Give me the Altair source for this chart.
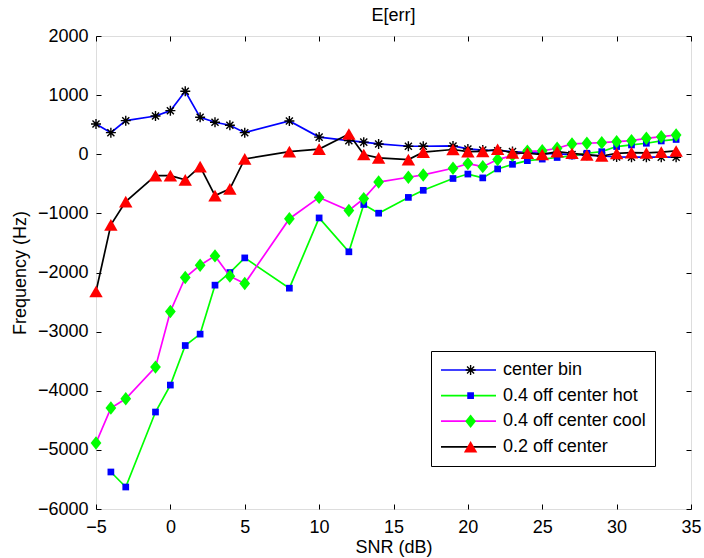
import math
import altair as alt
import pandas as pd

# ---------------- data ----------------
snr = [-5, -4, -3, -1, 0, 1, 2, 3, 4, 5, 8, 10, 12, 13, 14, 16, 17, 19,
       20, 21, 22, 23, 24, 25, 26, 27, 28, 29, 30, 31, 32, 33, 34]
snr_hot = snr[1:]

center_bin = [512, 365, 568, 647, 737, 1065, 625, 541, 490, 365, 563, 290, 230, 205, 174, 135, 135, 140,
              90, 70, 60, 45, 30, 15, 5, -5, -15, -30, -45, -50, -50, -50, -50]
off_hot = [-5374, -5628, -4360, -3904, -3235, -3042, -2214, -2001, -1753, -2265, -1077, -1650, -850, -997,
           -730, -610, -410, -335, -400, -248, -170, -108, -82, -55, -29, 17, 44, 130, 157, 186, 225, 250]
off_cool = [-4884, -4293, -4136, -3600, -2660, -2085, -1876, -1719, -2062, -2187, -1090, -730, -950, -750,
            -470, -389, -350, -237, -158, -210, -90, -18, 50, 58, 101, 174, 186, 196, 213, 230, 270, 297, 326]
off_02 = [-2322, -1195, -801, -362, -362, -434, -209, -700, -586, -79, 44, 87, 343, -5, -62, -90, 35, 80,
          44, 47, 84, 22, 17, -5, 44, 17, -12, -29, 15, 28, 22, 35, 56]

names = ["center bin", "0.4 off center hot", "0.4 off center cool", "0.2 off center"]
keys = ["k1", "k2", "k3", "k4"]
x_ticks = [-5, 0, 5, 10, 15, 20, 25, 30, 35]
y_ticks = [-6000, -5000, -4000, -3000, -2000, -1000, 0, 1000, 2000]

# ---------------- styles ----------------
line_colors = ["#0000FF", "#00FF00", "#FF00FF", "#000000"]
marker_colors = ["#000000", "#0000FF", "#00FF00", "#FF0000"]


def bar(theta, L=1.0, w=0.14):
    c, s = math.cos(theta), math.sin(theta)
    dx, dy = L * c, L * s
    px, py = -w * s, w * c
    pts = [(dx + px, dy + py), (dx - px, dy - py), (-dx - px, -dy - py), (-dx + px, -dy + py)]
    return "M" + "L".join(f"{x:.3f},{y:.3f}" for x, y in pts) + "Z"


star = "".join(bar(math.radians(a)) for a in (0, 45, 90, 135))
diamond = "M0,-1L0.8,0L0,1L-0.8,0Z"
shapes = [star, "square", diamond, "triangle-up"]
sizes = [100, 45, 180, 180]

FONT = "Liberation Sans"
FS = 18

rows = []
for name, key, xs, ys in zip(names, keys, [snr, snr_hot, snr, snr],
                             [center_bin, off_hot, off_cool, off_02]):
    for xv, yv in zip(xs, ys):
        rows.append({"series": name, "key": key, "snr": xv, "err": yv})
df = pd.DataFrame(rows)

xscale = alt.Scale(domain=[-5, 35], nice=False, zero=False)
yscale = alt.Scale(domain=[-6000, 2000], nice=False, zero=False)

base = alt.Chart(df)

common_legend = dict(orient="none", legendY=315, title=None, padding=9, clipHeight=20,
                     rowPadding=5.6, labelFontSize=FS, labelFont=FONT, labelColor="black",
                     labelLimit=400)

legend_lines = alt.Legend(legendX=335, symbolType="stroke", symbolSize=3025, symbolStrokeWidth=1.7,
                          labelOffset=6, strokeColor="black", fillColor="white", zindex=1,
                          **common_legend)
legend_marks = alt.Legend(legendX=356.6, symbolStrokeWidth=0, labelExpr="''",
                          labelOffset=6, zindex=2, **common_legend)

color_enc = alt.Color("series:N", scale=alt.Scale(domain=names, range=line_colors), legend=legend_lines)
shape_enc = alt.Shape("key:N", scale=alt.Scale(domain=keys, range=shapes), legend=legend_marks)
fill_enc = alt.Fill("key:N", scale=alt.Scale(domain=keys, range=marker_colors), legend=legend_marks)
size_enc = alt.Size("key:N", scale=alt.Scale(type="ordinal", domain=keys, range=sizes), legend=legend_marks)

# axis layer with labels (bottom/left)
label_layer = base.mark_point(opacity=0).encode(
    x=alt.X("snr:Q", scale=xscale,
            axis=alt.Axis(values=x_ticks, ticks=False, tickSize=0, domain=False, grid=False,
                          labelFontSize=FS, labelFont=FONT, labelColor="black", labelPadding=9,
                          labelFlush=False, format="d",
                          title="SNR (dB)", titleFontSize=FS, titleFont=FONT,
                          titleFontWeight="normal", titleColor="black", titlePadding=2)),
    y=alt.Y("err:Q", scale=yscale,
            axis=alt.Axis(values=y_ticks, ticks=False, tickSize=0, domain=False, grid=False,
                          labelFontSize=FS, labelFont=FONT, labelColor="black", labelPadding=8,
                          labelFlush=False, format="d",
                          title="Frequency (Hz)", titleFontSize=FS, titleFont=FONT,
                          titleFontWeight="normal", titleColor="black", titlePadding=8)),
)


def tick_axis(orient, values):
    return alt.Axis(orient=orient, values=values, offset=-5, ticks=True, tickSize=5, tickWidth=1,
                    tickColor="black", domain=False, labels=False, grid=False, title=None)


tick_layer1 = base.mark_point(opacity=0).encode(
    x=alt.X("snr:Q", scale=xscale, axis=tick_axis("bottom", x_ticks)),
    y=alt.Y("err:Q", scale=yscale, axis=tick_axis("left", y_ticks)),
)
tick_layer2 = base.mark_point(opacity=0).encode(
    x=alt.X("snr:Q", scale=xscale, axis=tick_axis("top", x_ticks)),
    y=alt.Y("err:Q", scale=yscale, axis=tick_axis("right", y_ticks)),
)

layers = [label_layer, tick_layer1, tick_layer2]
for name, key in zip(names, keys):
    sub = base.transform_filter(alt.datum.series == name)
    line = sub.mark_line(strokeWidth=1.7).encode(
        x=alt.X("snr:Q", scale=xscale, axis=None),
        y=alt.Y("err:Q", scale=yscale, axis=None),
        color=color_enc,
        order="snr:Q",
    )
    pts = sub.mark_point(filled=True, opacity=1, strokeWidth=0).encode(
        x=alt.X("snr:Q", scale=xscale, axis=None),
        y=alt.Y("err:Q", scale=yscale, axis=None),
        shape=shape_enc,
        fill=fill_enc,
        size=size_enc,
    )
    layers += [line, pts]

chart = alt.layer(*layers).resolve_axis(x="independent", y="independent").properties(
    width=595, height=473,
    autosize=alt.AutoSizeParams(type="none"),
    padding={"left": 96, "top": 36, "right": 13, "bottom": 49},
    title=alt.TitleParams("E[err]", fontSize=FS, font=FONT, fontWeight="normal", color="black",
                          anchor="middle", offset=2),
).configure_view(stroke="black", strokeWidth=1).configure(background="white")

chart.save("out.html", embed_options={"renderer": "svg", "actions": False})
